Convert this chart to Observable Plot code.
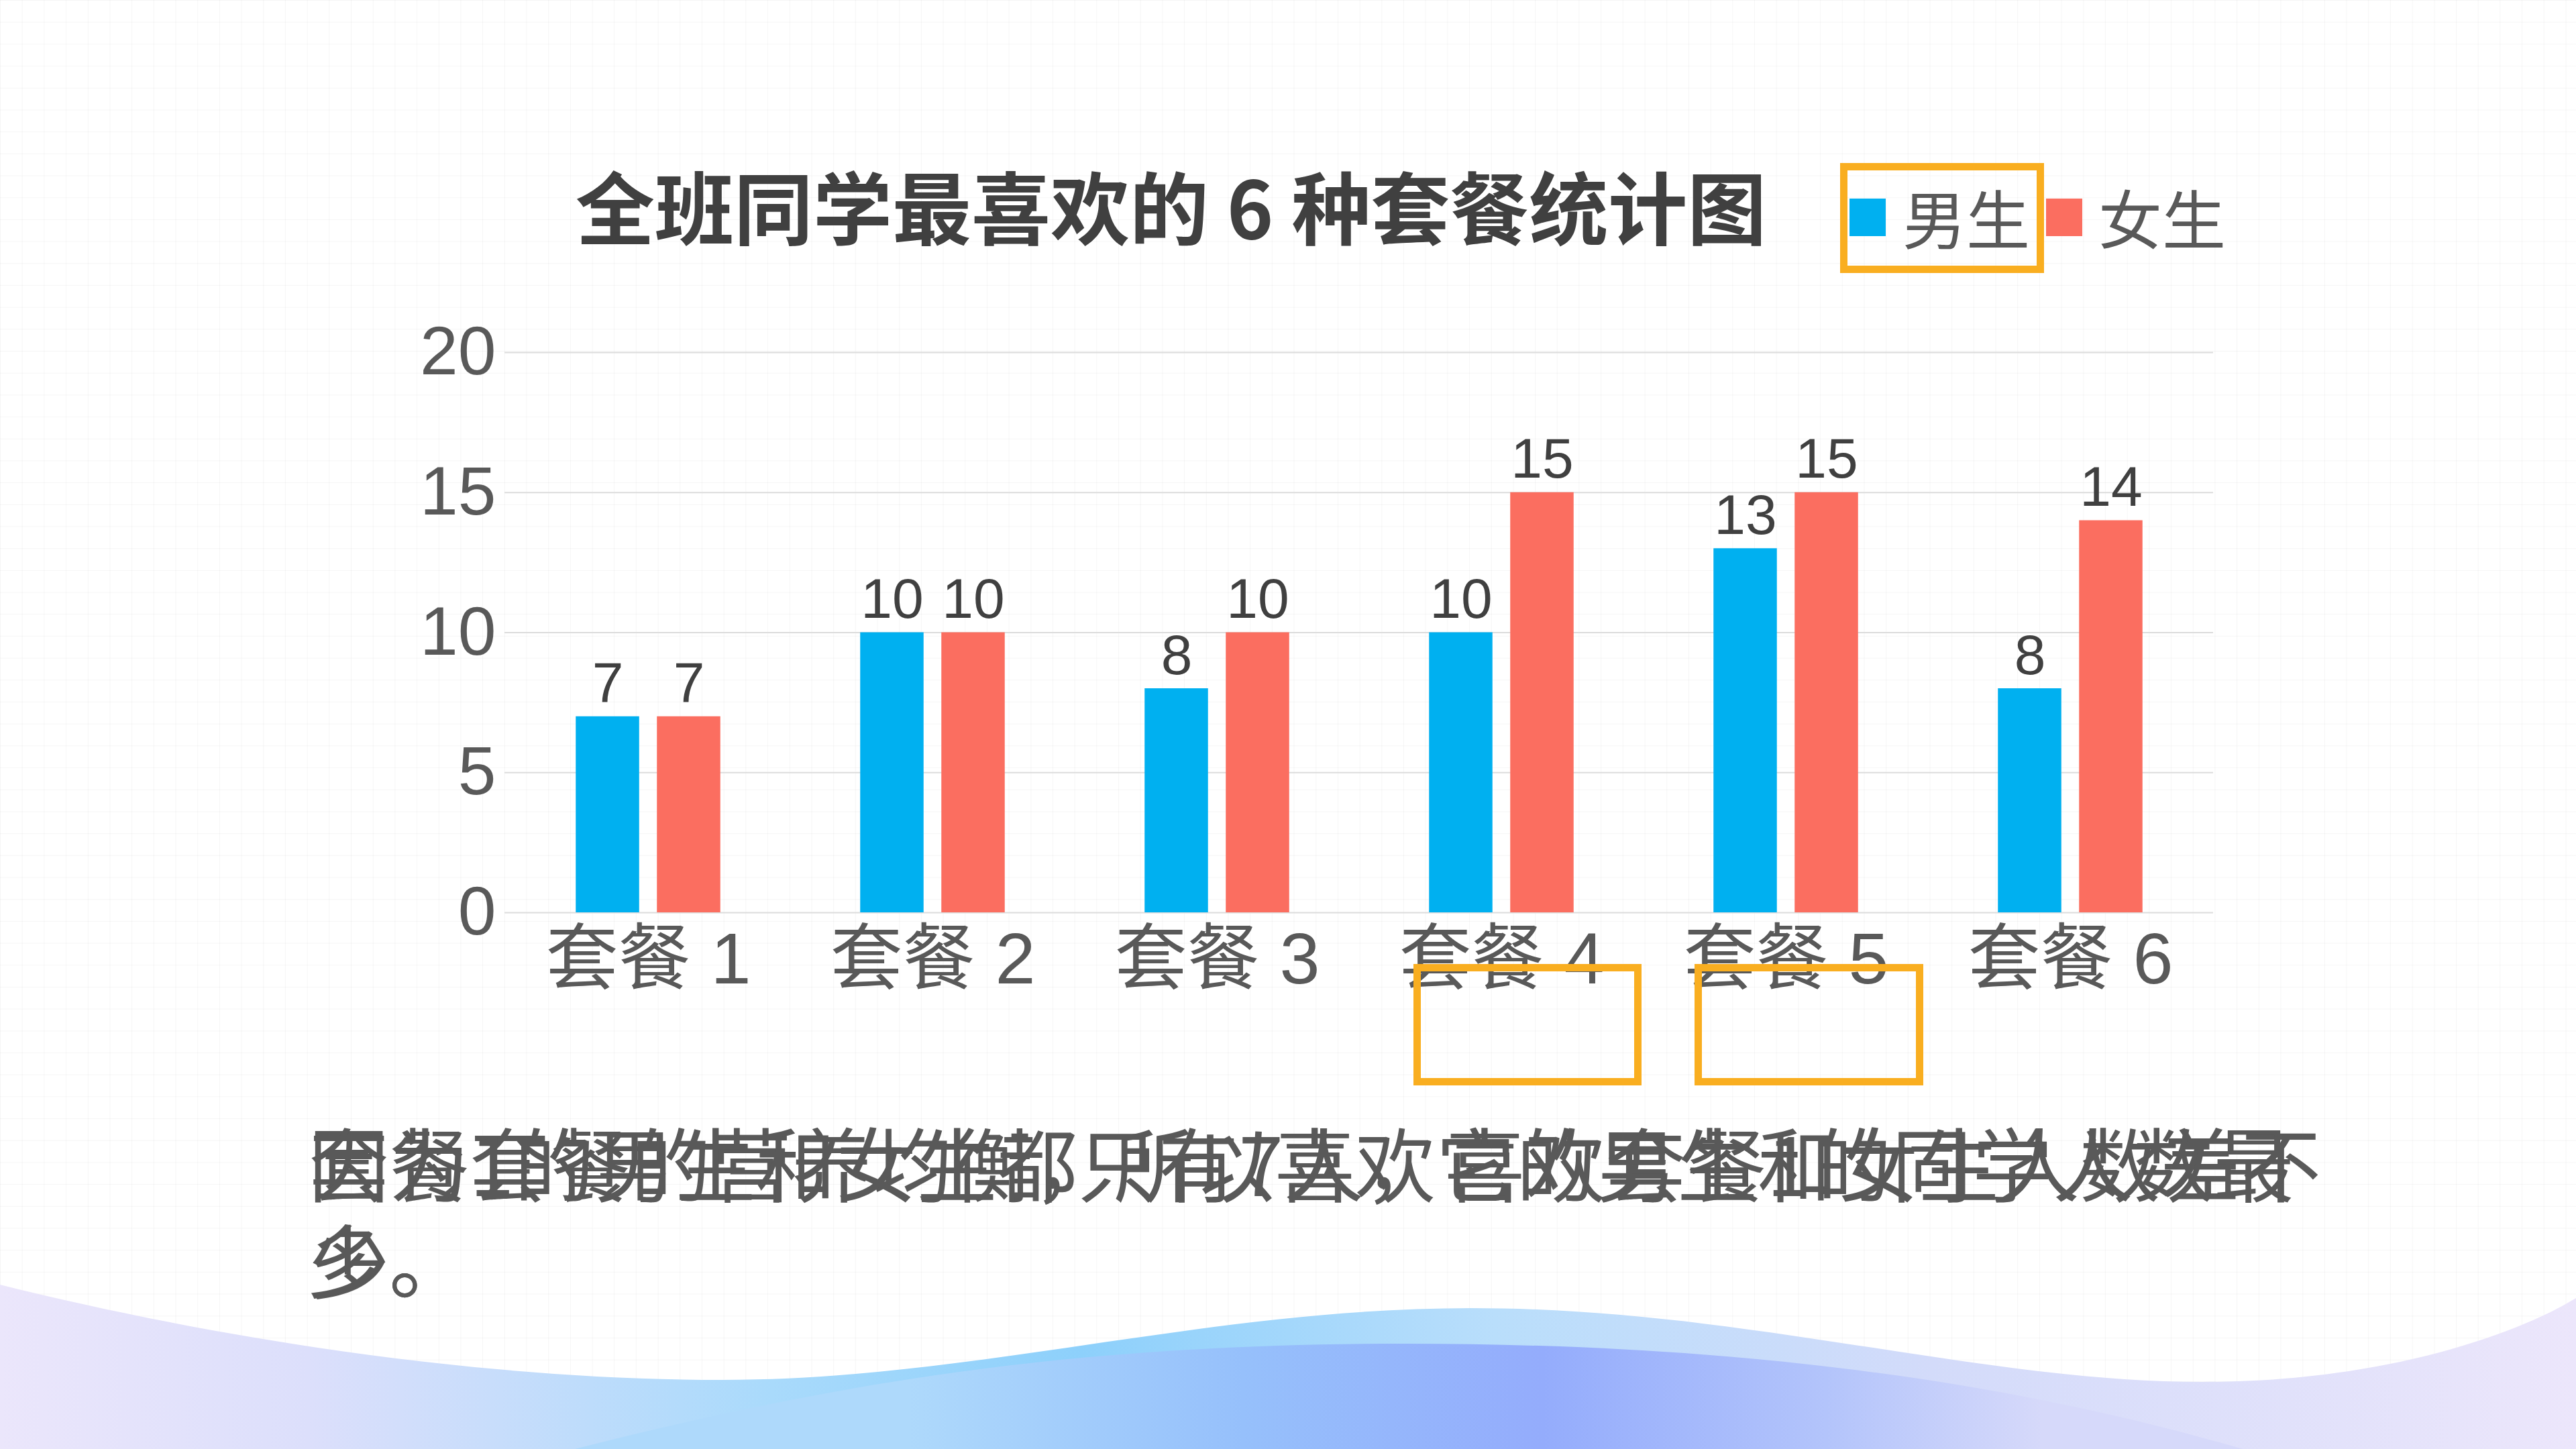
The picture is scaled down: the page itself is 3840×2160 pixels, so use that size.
<!DOCTYPE html>
<html>
<head>
<meta charset="utf-8">
<script src="https://cdn.jsdelivr.net/npm/d3@7"></script>
<script src="https://cdn.jsdelivr.net/npm/@observablehq/plot@0.6"></script>
<style>
  html, body { margin: 0; padding: 0; }
  body {
    width: 3840px; height: 2160px; position: relative; overflow: hidden;
    background-color: #ffffff;
    background-image:
      linear-gradient(rgba(0,0,0,0.035) 1px, transparent 1px),
      linear-gradient(90deg, rgba(0,0,0,0.035) 1px, transparent 1px);
    background-size: 32.7px 32.7px;
    font-family: "Noto Sans CJK SC", "Noto Sans", sans-serif;
  }
  .abs { position: absolute; }
  #title { left: 858px; top: 246px; font-size: 118px; line-height: 1; font-weight: 700; color: #404040; white-space: nowrap; }
  .lg-sw { width: 54px; height: 56px; top: 296px; }
  .lg-tx { top: 275px; font-size: 95px; line-height: 1; color: #595959; white-space: nowrap; }
  .note { left: 460px; top: 1659px; width: 3010px; font-size: 120px; line-height: 144px; color: #595959; }
  .hl { border: 11px solid #F9AE20; box-sizing: border-box; z-index: 5; }
  #waves { left: 0; top: 0; }
</style>
</head>
<body>
<svg id="waves" class="abs" width="3840" height="2160" viewBox="0 0 3840 2160">
  <defs>
    <linearGradient id="gBack" x1="0" x2="1" y1="0" y2="0">
      <stop offset="0" stop-color="#ebe6fb"/>
      <stop offset="0.12" stop-color="#dcdffb"/>
      <stop offset="0.3" stop-color="#a9dafb"/>
      <stop offset="0.42" stop-color="#8dd0fb"/>
      <stop offset="0.58" stop-color="#b9defb"/>
      <stop offset="0.75" stop-color="#d3dbfa"/>
      <stop offset="1" stop-color="#ece6fb"/>
    </linearGradient>
    <linearGradient id="gFront" x1="0" x2="1" y1="0" y2="0">
      <stop offset="0.2" stop-color="#aed9fb"/>
      <stop offset="0.4" stop-color="#96c0fb"/>
      <stop offset="0.58" stop-color="#94acfc"/>
      <stop offset="0.75" stop-color="#b3c4fb"/>
      <stop offset="0.88" stop-color="#d6d9fa"/>
    </linearGradient>
  </defs>
  <path d="M0,1915 C300,1990 700,2057 1078,2057 C1450,2057 1800,1950 2193,1950 C2600,1950 2950,2060 3284,2060 C3550,2060 3750,1990 3840,1935 L3840,2160 L0,2160 Z" fill="url(#gBack)"/>
  <path d="M857,2160 C1250,2060 1600,2003 2095,2003 C2600,2003 3000,2060 3343,2160 Z" fill="url(#gFront)"/>
</svg>

<div id="chart" class="abs" style="left:0;top:0;"></div>

<div id="title" class="abs">全班同学最喜欢的 6 种套餐统计图</div>
<div id="legend"></div>

<div class="abs note">因为套餐的营养均衡，所以喜欢它的男生和女生人数差不多。</div>
<div class="abs note">套餐1的男生和女生都只有7人，喜欢套餐1的同学人数最少。</div>

<div class="abs hl" style="left:2743px;top:243px;width:304px;height:164px;"></div>
<div class="abs hl" style="left:2107px;top:1437px;width:340px;height:181px;"></div>
<div class="abs hl" style="left:2526px;top:1437px;width:341px;height:181px;"></div>

<script>
// ---- data ----
const categories = ["套餐 1", "套餐 2", "套餐 3", "套餐 4", "套餐 5", "套餐 6"];
const boys = [7, 10, 8, 10, 13, 8];
const girls = [7, 10, 10, 15, 15, 14];
const seriesNames = ["男生", "女生"];
const seriesColors = ["#00B0F0", "#FB6E60"];
const yTicks = [0, 5, 10, 15, 20];

const boysData = categories.map((c, i) => ({cat: c, value: boys[i]}));
const girlsData = categories.map((c, i) => ({cat: c, value: girls[i]}));

const barOffset = 60.5;   // half of (bar width + gap) in px
const inset = 164.75;     // band inset to leave 95px bars
const chartFont = "'Liberation Sans', 'Noto Sans CJK SC', sans-serif";

const chart = Plot.plot({
  width: 3840,
  height: 1650,
  marginLeft: 752,
  marginRight: 541,
  marginTop: 525,
  marginBottom: 290,
  style: {background: "transparent", fontFamily: chartFont, overflow: "visible"},
  x: {type: "band", domain: categories, padding: 0},
  y: {domain: [0, 20]},
  marks: [
    Plot.gridY(yTicks, {stroke: "#dcdcdc", strokeOpacity: 1, strokeWidth: 2}),
    Plot.axisY(yTicks, {tickSize: 0, tickPadding: 13, fontSize: 102, fill: "#595959", label: null}),
    Plot.axisX({tickSize: 0, tickPadding: 29, fontSize: 108, fill: "#595959", label: null}),
    Plot.barY(boysData, {x: "cat", y: "value", fill: seriesColors[0], dx: -barOffset, insetLeft: inset, insetRight: inset}),
    Plot.barY(girlsData, {x: "cat", y: "value", fill: seriesColors[1], dx: barOffset, insetLeft: inset, insetRight: inset}),
    Plot.text(boysData, {x: "cat", y: "value", text: "value", dx: -barOffset, dy: -22, lineAnchor: "bottom", fontSize: 84, fill: "#404040"}),
    Plot.text(girlsData, {x: "cat", y: "value", text: "value", dx: barOffset, dy: -22, lineAnchor: "bottom", fontSize: 84, fill: "#404040"})
  ]
});
document.getElementById("chart").appendChild(chart);

// legend (HTML, from series arrays)
const legend = document.getElementById("legend");
const swLeft = [2757, 3050];
const txLeft = [2836, 3128];
seriesNames.forEach((name, i) => {
  const sw = document.createElement("div");
  sw.className = "abs lg-sw";
  sw.style.left = swLeft[i] + "px";
  sw.style.background = seriesColors[i];
  legend.appendChild(sw);
  const tx = document.createElement("div");
  tx.className = "abs lg-tx";
  tx.style.left = txLeft[i] + "px";
  tx.textContent = name;
  legend.appendChild(tx);
});
</script>
</body>
</html>
